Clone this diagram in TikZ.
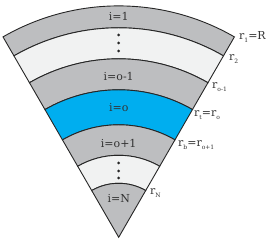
\documentclass[tikz,border=0pt]{standalone}
\usepackage{fontspec}
\setmainfont{DejaVu Serif}
\definecolor{bandgray}{HTML}{BDBEC0}
\definecolor{bandlight}{HTML}{F1F2F2}
\definecolor{bandblue}{HTML}{00AEEF}
\definecolor{inktext}{HTML}{333333}
\newcommand\lsub[1]{\raisebox{-0.55ex}{\fontsize{6}{6}\selectfont #1}}

\begin{document}
\begin{tikzpicture}[x=1pt, y=1pt,
  band/.style={draw=black!85, line width=0.9pt},
  lab/.style={font=\fontsize{11}{11}\selectfont, text=inktext, inner sep=0pt},
  rlab/.style={lab, anchor=west},
  dotmark/.style={fill=black!85, circle, inner sep=0pt, minimum size=3pt}
]
\useasboundingbox (0,0) rectangle (273,245);
\begin{scope}[shift={(118.7,7.7)}]
% rings, outer radius / inner radius / fill
\foreach \ro/\ri/\col in {231.4/209.5/bandgray, 209.5/178.5/bandlight,
    178.5/147.5/bandgray, 147.5/112.5/bandblue, 112.5/82/bandgray, 82/54/bandlight}
  \draw[band, fill=\col] (60:\ri) -- (60:\ro)
    arc[start angle=60, end angle=120, radius=\ro] -- (120:\ri)
    arc[start angle=120, end angle=60, radius=\ri] -- cycle;
\draw[band, fill=bandgray] (0,0) -- (60:54) arc[start angle=60, end angle=120, radius=54] -- cycle;

% layer labels
\node[lab] (i1)  at (90:220.5) {i=1};
\node[lab] (iom) at (90:161)   {i=o-1};
\node[lab] (io)  at (90:129.5) {i=o};
\node[lab] (iop) at (90:94)    {i=o+1};
\node[lab] (iN)  at (90:39)    {i=N};
\foreach \r [count=\k] in {202.3,194.3,186.3}
  \node[dotmark] (dtop\k) at (90:\r) {};
\foreach \r [count=\k] in {74.3,66.3,59.3}
  \node[dotmark] (dbot\k) at (90:\r) {};

% radii
\node[rlab] (r1) at (120.3,200.3) {r\lsub{1}=R};
\node[rlab] (r2) at (110.3,178.3) {r\lsub{2}};
\node[rlab] (rom) at (93.3,150.3) {r\lsub{o-1}};
\node[rlab] (rt) at (75.3,122.3) {r\lsub{t}=r\lsub{o}};
\node[rlab] (rb) at (59.3,92.3) {r\lsub{b}=r\lsub{o+1}};
\node[rlab] (rN) at (31.3,44.3) {r\lsub{N}};
\end{scope}
\end{tikzpicture}
\end{document}
